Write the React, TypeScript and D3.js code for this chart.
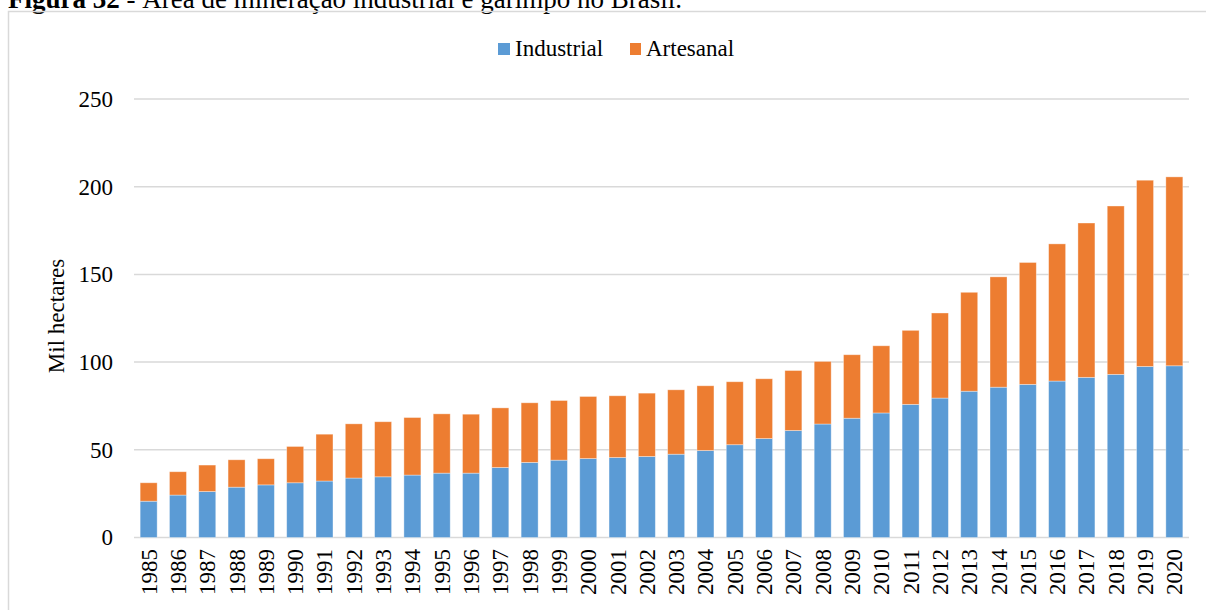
import React from "react";
import * as d3 from "d3";

const years = [
  "1985","1986","1987","1988","1989","1990","1991","1992","1993","1994","1995","1996",
  "1997","1998","1999","2000","2001","2002","2003","2004","2005","2006","2007","2008",
  "2009","2010","2011","2012","2013","2014","2015","2016","2017","2018","2019","2020",
];
const industrial = [
  20.7, 24.2, 26.2, 28.7, 30.0, 31.2, 32.2, 33.9, 34.6, 35.6, 36.7, 36.7,
  39.9, 42.8, 44.1, 45.0, 45.6, 46.2, 47.5, 49.6, 52.9, 56.4, 61.0, 64.7,
  68.0, 71.0, 75.9, 79.5, 83.4, 85.7, 87.3, 89.2, 91.3, 93.0, 97.5, 97.9,
];
const artesanal = [
  10.5, 13.3, 15.1, 15.6, 14.9, 20.7, 26.7, 30.9, 31.4, 32.8, 33.8, 33.6,
  34.0, 34.0, 34.0, 35.4, 35.2, 36.1, 36.7, 36.9, 35.9, 34.1, 34.2, 35.7,
  36.2, 38.3, 42.2, 48.5, 56.4, 62.9, 69.5, 78.2, 88.0, 96.0, 106.2, 107.7,
];
const yTicks = [0, 50, 100, 150, 200, 250];
const seriesNames = ["Industrial", "Artesanal"];
const colors = ["#5B9BD5", "#ED7D31"];

const W = 1206;
const H = 610;
const FONT = "Liberation Serif";

export default function App() {
  const x = d3.scaleBand<string>().domain(years).range([134, 1189]).paddingInner(0.42).paddingOuter(0.21);
  const y = d3.scaleLinear().domain([0, 250]).range([537.5, 99]);

  const rows = years.map((yr, i) => ({ year: yr, Industrial: industrial[i], Artesanal: artesanal[i] }));
  const stacked = d3.stack<any>().keys(seriesNames)(rows);

  return (
    <svg width={W} height={H} style={{ position: "absolute", left: 0, top: 0, background: "#fff" }}>
      <rect x={0} y={0} width={W} height={H} fill="#fff" />
      <text x={8} y={8} fontSize={27} fill="#000" fontFamily={FONT}>
        <tspan fontWeight="bold">Figura 32</tspan>
        <tspan> - Área de mineração industrial e garimpo no Brasil.</tspan>
      </text>
      {/* frame */}
      <path d={`M8.5,${H + 2} V11.5 H${W + 2}`} fill="none" stroke="#D9D9D9" strokeWidth={1.5} />

      {/* gridlines */}
      {yTicks.map((t) => (
        <line key={t} x1={134} x2={1189} y1={y(t)} y2={y(t)} stroke="#D9D9D9" strokeWidth={1.5} />
      ))}
      {yTicks.map((t) => (
        <text key={"l" + t} x={113} y={y(t)} dy="0.34em" textAnchor="end" fontSize={23} fill="#000" fontFamily={FONT}>
          {t}
        </text>
      ))}
      <text transform={`translate(64,316) rotate(-90)`} textAnchor="middle" fontSize={23} fill="#000" fontFamily={FONT}>
        Mil hectares
      </text>

      {/* bars */}
      {stacked.map((s, si) => (
        <g key={s.key} fill={colors[si]}>
          {s.map((d, i) => (
            <rect
              key={i}
              x={x(years[i])}
              width={x.bandwidth()}
              y={y(d[1])}
              height={y(d[0]) - y(d[1])}
              stroke="rgba(255,255,255,0.45)"
              strokeWidth={0.8}
            />
          ))}
        </g>
      ))}

      {/* x labels */}
      {years.map((yr) => (
        <text
          key={yr}
          transform={`translate(${(x(yr) as number) + x.bandwidth() / 2 + 8},549) rotate(-90)`}
          textAnchor="end"
          fontSize={23}
          fill="#000"
          fontFamily={FONT}
        >
          {yr}
        </text>
      ))}

      {/* legend */}
      <rect x={498} y={43} width={12} height={12} fill={colors[0]} />
      <text x={515} y={56} fontSize={23} fill="#000" fontFamily={FONT}>{seriesNames[0]}</text>
      <rect x={630} y={43} width={11} height={12} fill={colors[1]} />
      <text x={646} y={56} fontSize={23} fill="#000" fontFamily={FONT}>{seriesNames[1]}</text>
    </svg>
  );
}
